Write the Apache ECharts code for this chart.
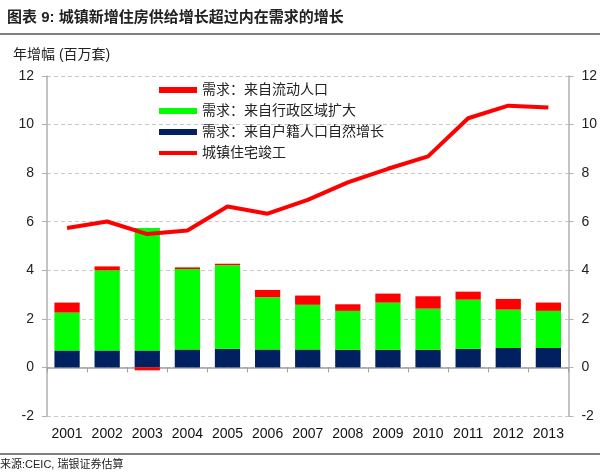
<!DOCTYPE html>
<html><head><meta charset="utf-8">
<script src="https://cdn.jsdelivr.net/npm/echarts@6/dist/echarts.min.js"></script>
<style>html,body{margin:0;padding:0;background:#fff}#c{width:600px;height:476px}</style>
</head><body><div id="c"></div>
<script>
const years = ['2001','2002','2003','2004','2005','2006','2007','2008','2009','2010','2011','2012','2013'];
const migrant = [0.41, 0.16, -0.12, 0.07, 0.06, 0.30, 0.38, 0.27, 0.37, 0.51, 0.33, 0.44, 0.34];
const admin = [1.56, 3.30, 5.04, 3.31, 3.44, 2.15, 1.84, 1.60, 1.94, 1.69, 2.02, 1.58, 1.53];
const natural = [0.70, 0.70, 0.70, 0.74, 0.77, 0.74, 0.74, 0.73, 0.73, 0.73, 0.77, 0.80, 0.80];
const completed = [5.74, 6.01, 5.49, 5.64, 6.63, 6.33, 6.90, 7.62, 8.18, 8.69, 10.26, 10.78, 10.70];
const yTicks = [-2, 0, 2, 4, 6, 8, 10, 12];
const names = ['需求：来自流动人口', '需求：来自行政区域扩大', '需求：来自户籍人口自然增长', '城镇住宅竣工'];

const FF = 'Liberation Sans, Arial, Noto Sans CJK SC, sans-serif';
const chart = echarts.init(document.getElementById('c'));
const yAxisCommon = {
  type: 'value', min: yTicks[0], max: yTicks[yTicks.length - 1], interval: 2,
  axisLine: { show: true, lineStyle: { color: '#b0b0b0', width: 1.5 } },
  axisTick: { show: true, length: 5, lineStyle: { color: '#b0b0b0' } },
  axisLabel: { color: '#222', fontSize: 14, fontFamily: FF, margin: 13 }
};
chart.setOption({
  animation: false,
  title: {
    text: '图表 9: 城镇新增住房供给增长超过内在需求的增长',
    left: 2, top: 5,
    textStyle: { fontSize: 15, fontWeight: 'bold', color: '#222', fontFamily: FF }
  },
  graphic: [
    { type: 'line', shape: { x1: 0, y1: 34, x2: 600, y2: 34 }, style: { stroke: '#555', lineWidth: 1.5 } },
    { type: 'line', shape: { x1: 0, y1: 454, x2: 600, y2: 454 }, style: { stroke: '#555', lineWidth: 1.5 } },
    { type: 'text', left: 13, top: 48, style: { text: '年增幅 (百万套)', fontSize: 14, fill: '#222', fontFamily: FF } },
    { type: 'text', left: 0, top: 459, style: { text: '来源:CEIC, 瑞银证券估算', fontSize: 11, fill: '#222', fontFamily: FF } }
  ],
  grid: { left: 47, right: 31, top: 76, bottom: 60 },
  legend: {
    orient: 'vertical', left: 157, top: 83, padding: 0,
    itemWidth: 38, itemHeight: 6, itemGap: 7,
    data: [{ name: names[0], icon: 'rect' }, { name: names[1], icon: 'rect' }, { name: names[2], icon: 'rect' },
      { name: names[3], itemStyle: { opacity: 0 }, lineStyle: { width: 4, color: '#ff0000' } }],
    textStyle: { fontSize: 14, color: '#222', fontFamily: FF },
    selectedMode: false
  },
  xAxis: [
    { type: 'category', data: years, position: 'bottom',
      axisLine: { show: false, onZero: false }, axisTick: { show: false },
      axisLabel: { color: '#111', fontSize: 14, fontFamily: FF, margin: 11, interval: 0 } },
    { type: 'category', data: years, position: 'top',
      axisLine: { show: true, onZero: true, lineStyle: { color: '#a0a0a0', width: 1.5 } },
      axisTick: { show: true, inside: true, length: 5, lineStyle: { color: '#a0a0a0' } },
      axisLabel: { show: false } }
  ],
  yAxis: [
    Object.assign({}, yAxisCommon, { position: 'left',
      splitLine: { show: true, lineStyle: { color: '#c8c8c8', type: [4, 3] } } }),
    Object.assign({}, yAxisCommon, { position: 'right', splitLine: { show: false } })
  ],
  series: [
    { name: names[2], type: 'bar', stack: 'd', data: natural, barWidth: '63%',
      itemStyle: { color: '#002060' } },
    { name: names[1], type: 'bar', stack: 'd', data: admin,
      itemStyle: { color: '#00ff00' } },
    { name: names[0], type: 'bar', stack: 'd', data: migrant,
      itemStyle: { color: '#ff0000' } },
    { name: names[3], type: 'line', data: completed, symbol: 'none',
      lineStyle: { color: '#ff0000', width: 4 }, itemStyle: { color: '#ff0000' } }
  ]
});
</script></body></html>
